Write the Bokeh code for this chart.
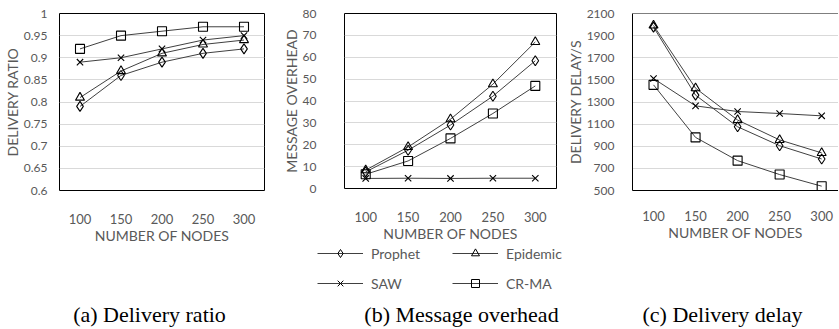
from bokeh.plotting import figure
from bokeh.models import Range1d, FixedTicker, Legend, LegendItem, Label, Span, NumeralTickFormatter
from bokeh.layouts import row, column
from bokeh.embed import file_html
from bokeh.resources import INLINE

# ---------------- data ----------------
nodes = ["100", "150", "200", "250", "300"]
series = ["Prophet", "Epidemic", "SAW", "CR-MA"]
series_markers = ["diamond", "triangle", "x", "square"]

ratio_prophet = [0.79, 0.86, 0.89, 0.91, 0.92]
ratio_epidemic = [0.81, 0.87, 0.91, 0.93, 0.94]
ratio_saw = [0.89, 0.90, 0.92, 0.94, 0.95]
ratio_crma = [0.92, 0.95, 0.96, 0.97, 0.97]

overhead_prophet = [7.6, 17.5, 29.0, 42.2, 58.4]
overhead_epidemic = [8.4, 19.0, 31.7, 47.7, 67.0]
overhead_saw = [4.6, 4.7, 4.6, 4.7, 4.7]
overhead_crma = [6.5, 12.6, 22.9, 34.3, 46.9]

delay_prophet = [1977, 1362, 1076, 905, 785]
delay_epidemic = [1992, 1425, 1137, 957, 840]
delay_saw = [1512, 1265, 1214, 1196, 1175]
delay_crma = [1455, 980, 770, 644, 539]

ratio_ticks = [0.6, 0.65, 0.7, 0.75, 0.8, 0.85, 0.9, 0.95, 1.0]
overhead_ticks = [0, 10, 20, 30, 40, 50, 60, 70, 80]
delay_ticks = [500, 700, 900, 1100, 1300, 1500, 1700, 1900, 2100]

captions = ["(a) Delivery ratio", "(b) Message overhead", "(c) Delivery delay"]
y_labels = ["DELIVERY RATIO", "MESSAGE OVERHEAD", "DELIVERY DELAY/S"]
x_label = "NUMBER OF NODES"

# ---------------- style ----------------
SANS = "Lato"
GRAY = "#595959"
xs = list(range(len(nodes)))
NAN = float("nan")


def make_panel(vals, ticks, ylabel, x_end, frame_w, frame_h,
               b_left, b_right, b_top, y_standoff, x_standoff, use_outline=True):
    p = figure(frame_width=frame_w, frame_height=frame_h,
               x_range=Range1d(-0.5, x_end),
               y_range=Range1d(ticks[0], ticks[-1]),
               output_backend="svg", toolbar_location=None,
               min_border_left=b_left, min_border_right=b_right,
               min_border_top=b_top, min_border_bottom=0)
    p.background_fill_color = "white"
    p.border_fill_color = "white"
    p.xgrid.visible = False
    p.ygrid.grid_line_color = "#d9d9d9"
    p.ygrid.grid_line_width = 1

    xa = p.xaxis[0]
    xa.ticker = FixedTicker(ticks=xs)
    xa.major_label_overrides = {i: n for i, n in enumerate(nodes)}
    xa.major_tick_line_color = None
    xa.minor_tick_line_color = None
    xa.major_tick_out = 0
    xa.major_tick_in = 0
    xa.minor_tick_out = 0
    xa.major_label_standoff = x_standoff
    xa.major_label_text_font = SANS
    xa.major_label_text_font_size = "13px"
    xa.major_label_text_color = GRAY
    xa.axis_label = x_label
    xa.axis_label_standoff = 0
    xa.axis_label_text_font = SANS
    xa.axis_label_text_font_size = "14px"
    xa.axis_label_text_font_style = "normal"
    xa.axis_label_text_color = GRAY

    ya = p.yaxis[0]
    ya.ticker = FixedTicker(ticks=ticks)
    ya.formatter = NumeralTickFormatter(format="0.[00]")
    ya.major_tick_line_color = None
    ya.minor_tick_line_color = None
    ya.major_tick_out = 0
    ya.major_tick_in = 0
    ya.minor_tick_out = 0
    ya.major_label_standoff = y_standoff
    ya.major_label_text_font = SANS
    ya.major_label_text_font_size = "12px"
    ya.major_label_text_color = GRAY
    ya.axis_label = ylabel
    ya.axis_label_standoff = 0
    ya.axis_label_text_font = SANS
    ya.axis_label_text_font_size = "14px"
    ya.axis_label_text_font_style = "normal"
    ya.axis_label_text_color = GRAY

    if use_outline:
        p.outline_line_color = "black"
        p.outline_line_width = 1
        xa.axis_line_color = None
        ya.axis_line_color = None
    else:
        p.outline_line_color = None
        xa.axis_line_color = "black"
        ya.axis_line_color = "black"
        p.add_layout(Span(location=ticks[-1], dimension="width",
                          line_color="black", line_width=1))

    for name, mk, v in zip(series, series_markers, vals):
        p.line(xs, v, line_color="#404040", line_width=1)
        p.scatter(xs, v, marker=mk, size=10 if mk == "diamond" else 9,
                  line_color="black", fill_color=None, line_width=1.1)
    return p


pa = make_panel([ratio_prophet, ratio_epidemic, ratio_saw, ratio_crma],
                ratio_ticks, y_labels[0], 4.5, 205, 177, 52, 15, 10, 12, 23)
pb = make_panel([overhead_prophet, overhead_epidemic, overhead_saw, overhead_crma],
                overhead_ticks, y_labels[1], 4.5, 212, 175, 65, 5, 12, 28, 23)
pc = make_panel([delay_prophet, delay_epidemic, delay_saw, delay_crma],
                delay_ticks, y_labels[2], 4.4, 206, 177, 71, 0, 13, 18, 20,
                use_outline=False)

# ---------------- legend + captions strip ----------------
H = 85
W = 831
pl = figure(width=W, height=H, x_range=Range1d(0, W), y_range=Range1d(0, H),
            x_axis_location=None, y_axis_location=None,
            output_backend="svg", toolbar_location=None, min_border=0)
pl.grid.visible = False
pl.outline_line_color = None
pl.background_fill_color = "white"
pl.border_fill_color = "white"

# legend proxies (no visible data, only used to draw the legend glyphs)
items = []
for name, mk in zip(series, series_markers):
    ln = pl.line([NAN], [NAN], line_color="#404040", line_width=1)
    sc = pl.scatter([NAN], [NAN], marker=mk, size=7, line_color="black",
                    fill_color=None, line_width=1)
    items.append(LegendItem(label=name, renderers=[ln, sc]))

legend = Legend(items=items, orientation="horizontal", ncols=2,
                location=(317, H - 50), glyph_width=46, glyph_height=20,
                label_height=20, label_width=71, spacing=10, label_standoff=8,
                margin=0, padding=0, border_line_color=None,
                background_fill_alpha=0,
                label_text_font=SANS, label_text_font_size="14px",
                label_text_color=GRAY)
pl.add_layout(legend, "center")

caption_x = [149, 461, 722]
for cx, text in zip(caption_x, captions):
    pl.add_layout(Label(x=cx, y=14, x_units="screen", y_units="screen",
                        text=text, text_baseline="middle", text_align="center",
                        text_font="Liberation Serif", text_font_size="22px",
                        text_color="black"))

layout = column(row(pa, pb, pc), pl, spacing=0)
open("out.html", "w").write(file_html(layout, INLINE))
